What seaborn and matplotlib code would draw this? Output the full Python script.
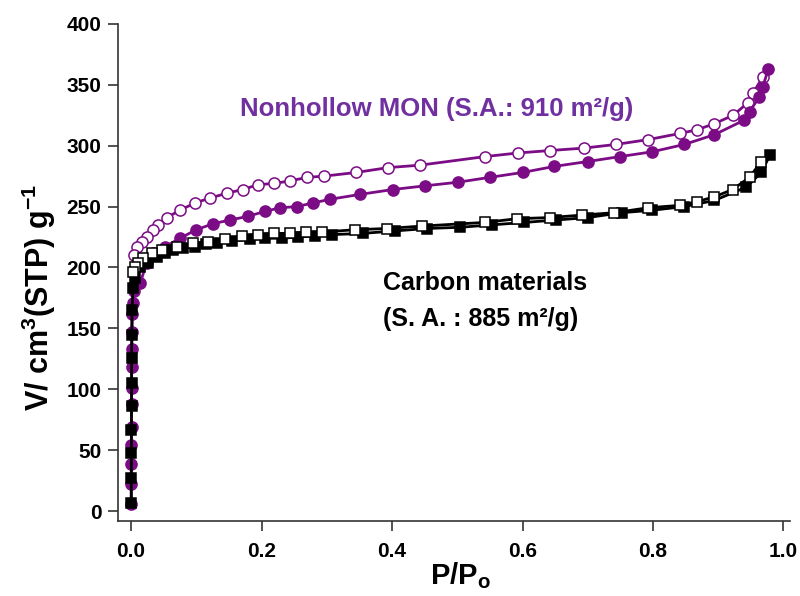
import numpy as np
import pandas as pd
import matplotlib
matplotlib.use("Agg")
import matplotlib.pyplot as plt
import seaborn as sns

# Nonhollow MON isotherm (adsorption, filled circles)
mon_ads_p = [0.0003, 0.0004, 0.0005, 0.0006, 0.0007, 0.0008, 0.0009, 0.001, 0.0012, 0.0015,
             0.002, 0.003, 0.005, 0.014, 0.024, 0.034, 0.052, 0.075, 0.100, 0.126, 0.152,
             0.179, 0.205, 0.228, 0.254, 0.279, 0.305, 0.351, 0.401, 0.450, 0.501, 0.550,
             0.600, 0.649, 0.700, 0.749, 0.799, 0.848, 0.894, 0.940, 0.948, 0.963, 0.968, 0.977]
mon_ads_v = [6, 22, 39, 54, 69, 88, 101, 118, 133, 147, 162, 171, 181, 187, 204, 212, 217,
             224, 231, 236, 239, 242, 246, 249, 250, 253, 256, 260, 264, 267, 270, 274, 278,
             283, 287, 291, 295, 301, 309, 321, 328, 340, 348, 363]
# Nonhollow MON (desorption, open circles)
mon_des_p = [0.968, 0.953, 0.945, 0.923, 0.894, 0.867, 0.841, 0.793, 0.743, 0.694, 0.642,
             0.593, 0.542, 0.443, 0.394, 0.345, 0.296, 0.270, 0.243, 0.219, 0.195, 0.171,
             0.147, 0.121, 0.098, 0.075, 0.055, 0.041, 0.034, 0.024, 0.017, 0.009, 0.005]
mon_des_v = [356, 343, 335, 325, 318, 313, 310, 305, 301, 298, 296, 294, 291, 284, 282, 278,
             275, 274, 271, 269, 268, 264, 261, 257, 253, 247, 241, 235, 231, 225, 221, 217, 210]

# Carbon materials (adsorption, filled squares)
c_ads_p = [0.0003, 0.0004, 0.0005, 0.0006, 0.0007, 0.0008, 0.0009, 0.001, 0.0015, 0.003,
           0.006, 0.014, 0.026, 0.040, 0.052, 0.064, 0.080, 0.098, 0.115, 0.132, 0.155,
           0.182, 0.206, 0.231, 0.256, 0.282, 0.308, 0.355, 0.404, 0.453, 0.504, 0.553,
           0.603, 0.652, 0.700, 0.752, 0.799, 0.848, 0.894, 0.943, 0.966, 0.979]
c_ads_v = [7, 27, 48, 67, 86, 105, 126, 145, 165, 183, 191, 200, 204, 209, 212, 214, 216,
           217, 219, 220, 222, 223, 224, 224, 225, 226, 227, 228, 230, 232, 233, 235, 237,
           239, 241, 245, 247, 250, 255, 266, 278, 292]
# Carbon materials (desorption, open squares)
c_des_p = [0.966, 0.948, 0.922, 0.894, 0.867, 0.841, 0.792, 0.741, 0.691, 0.642, 0.591,
           0.542, 0.446, 0.392, 0.343, 0.292, 0.268, 0.243, 0.219, 0.195, 0.170, 0.144,
           0.118, 0.095, 0.070, 0.047, 0.032, 0.018, 0.011, 0.006, 0.003]
c_des_v = [287, 274, 264, 258, 254, 251, 249, 245, 243, 241, 240, 237, 234, 232, 231, 229,
           229, 228, 228, 227, 226, 223, 221, 220, 217, 214, 212, 208, 204, 200, 196]

x_ticks = [0.0, 0.2, 0.4, 0.6, 0.8, 1.0]
y_ticks = [0, 50, 100, 150, 200, 250, 300, 350, 400]

purple = "#7b0c85"
text_purple = "#7030a0"

sns.set_style("ticks")
plt.rcParams['font.family'] = ['Liberation Sans', 'DejaVu Sans']
plt.rcParams['mathtext.fontset'] = 'custom'
plt.rcParams['mathtext.rm'] = 'Liberation Sans'
plt.rcParams['mathtext.bf'] = 'Liberation Sans:bold'
plt.rcParams['text.color'] = 'black'
plt.rcParams['axes.labelcolor'] = 'black'
plt.rcParams['xtick.labelcolor'] = 'black'
plt.rcParams['ytick.labelcolor'] = 'black'

fig = plt.figure(figsize=(8, 5.96), dpi=100)
ax = fig.add_axes([0.1475, 0.126, 0.84, 0.834])

# purple first so the black squares sit on top near P/Po = 0
sns.lineplot(x=mon_des_p, y=mon_des_v, estimator=None, sort=False, ax=ax, color=purple,
             linewidth=2, marker='o', markersize=8, markerfacecolor='white',
             markeredgecolor=purple, markeredgewidth=1.1)
sns.lineplot(x=mon_ads_p, y=mon_ads_v, estimator=None, sort=False, ax=ax, color=purple,
             linewidth=2, marker='o', markersize=8, markerfacecolor=purple,
             markeredgecolor=purple, markeredgewidth=1.1)
sns.lineplot(x=c_ads_p, y=c_ads_v, estimator=None, sort=False, ax=ax, color='black',
             linewidth=2, marker='s', markersize=7.5, markerfacecolor='black',
             markeredgecolor='black', markeredgewidth=1.1)
sns.lineplot(x=c_des_p, y=c_des_v, estimator=None, sort=False, ax=ax, color='black',
             linewidth=2, marker='s', markersize=7.5, markerfacecolor='white',
             markeredgecolor='black', markeredgewidth=1.1)

ax.set_xlim(-0.02, 1.01)
ax.set_ylim(-8, 400)
ax.set_xticks(x_ticks)
ax.set_yticks(y_ticks)
ax.set_xticklabels([f"{t:.1f}" for t in x_ticks], fontsize=15, fontweight='bold')
ax.set_yticklabels([str(t) for t in y_ticks], fontsize=15, fontweight='bold')
ax.tick_params(direction='out', length=7, width=1.2, color='#333333')
ax.tick_params(axis='x', pad=8)
ax.tick_params(axis='y', pad=5)
for s in ['left', 'bottom']:
    ax.spines[s].set_linewidth(1.2)
    ax.spines[s].set_color('#333333')
sns.despine(ax=ax)

ax.set_xlabel(r"P/P$_\mathbf{o}$", fontsize=21, fontweight='bold')
ax.set_ylabel(r"V/ cm$^\mathbf{3}$(STP) g$^\mathbf{-1}$", fontsize=22, fontweight='bold')
ax.yaxis.set_label_coords(-0.09, 0.45)
ax.xaxis.set_label_coords(0.51, -0.08)

ax.text(0.167, 330, "Nonhollow MON (S.A.: 910 m²/g)", color=text_purple, fontsize=18.5,
        fontweight='bold', va='center', ha='left')
ax.text(0.386, 187, "Carbon materials", color='black', fontsize=18,
        fontweight='bold', va='center', ha='left')
ax.text(0.386, 158, "(S. A. : 885 m²/g)", color='black', fontsize=18,
        fontweight='bold', va='center', ha='left')

fig.savefig("out.png", dpi=100)
